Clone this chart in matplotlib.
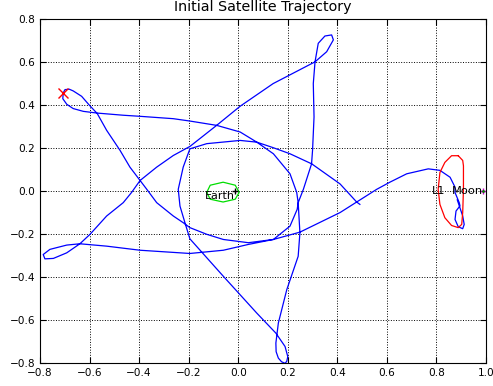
import matplotlib
matplotlib.use('Agg')
import matplotlib.pyplot as plt

# satellite path (rotating frame) in order
traj_x = [0.491, 0.478, 0.411, 0.297, 0.209, 0.142, 0.075, 0.008, -0.087, -0.195,
          -0.262, -0.396, -0.464, -0.569, -0.625, -0.666, -0.692, -0.708, -0.706,
          -0.699, -0.682, -0.666, -0.632, -0.601, -0.569, -0.531, -0.477, -0.437,
          -0.396, -0.369, -0.329, -0.262, -0.222, -0.195, -0.127, -0.060, 0.041,
          0.142, 0.209, 0.238, 0.242, 0.236, 0.209, 0.142, 0.075, 0.008, -0.127,
          -0.195, -0.222, -0.242, -0.235, -0.215, -0.195, -0.060, 0.075, 0.152,
          0.189, 0.200, 0.196, 0.189, 0.175, 0.162, 0.153, 0.152, 0.162, 0.196,
          0.242, 0.249, 0.246, 0.242, 0.263, 0.296, 0.300, 0.306, 0.303, 0.310,
          0.323, 0.350, 0.377, 0.384, 0.357, 0.310, 0.141, 0.008, -0.087, -0.195,
          -0.262, -0.329, -0.396, -0.430, -0.464, -0.531, -0.598, -0.639, -0.692,
          -0.746, -0.780, -0.787, -0.760, -0.692, -0.639, -0.531, -0.396, -0.195,
          -0.060, 0.041, 0.142, 0.249, 0.411, 0.478, 0.559, 0.612, 0.680, 0.767,
          0.814, 0.855, 0.875, 0.875, 0.892, 0.895, 0.879, 0.875, 0.888, 0.906,
          0.912, 0.906, 0.892, 0.884]
traj_y = [-0.061, -0.050, 0.034, 0.127, 0.174, 0.202, 0.228, 0.275, 0.306, 0.326,
          0.337, 0.348, 0.353, 0.363, 0.371, 0.384, 0.404, 0.430, 0.457,
          0.472, 0.474, 0.466, 0.441, 0.400, 0.361, 0.283, 0.190, 0.112,
          0.050, 0.009, -0.053, -0.115, -0.146, -0.169, -0.200, -0.224, -0.239,
          -0.224, -0.162, -0.084, -0.053, -0.005, 0.081, 0.174, 0.228, 0.236, 0.221,
          0.197, 0.112, 0.009, -0.069, -0.146, -0.221, -0.395, -0.566, -0.659,
          -0.721, -0.768, -0.790, -0.799, -0.792, -0.775, -0.745, -0.705, -0.612, -0.457,
          -0.302, -0.193, -0.131, -0.053, 0.009, 0.127, 0.190, 0.345, 0.500, 0.601,
          0.687, 0.721, 0.726, 0.703, 0.648, 0.601, 0.500, 0.395, 0.306, 0.208,
          0.166, 0.112, 0.050, -0.005, -0.053, -0.115, -0.200, -0.244, -0.286,
          -0.312, -0.314, -0.294, -0.270, -0.250, -0.244, -0.255, -0.274, -0.289,
          -0.274, -0.247, -0.224, -0.190, -0.099, -0.050, 0.009, 0.042, 0.081, 0.104,
          0.097, 0.065, 0.019, -0.006, -0.053, -0.068, -0.092, -0.131, -0.165, -0.174,
          -0.154, -0.115, -0.068, -0.040]

# L1 halo orbit (red)
halo_x = [0.888, 0.861, 0.834, 0.814, 0.807, 0.814, 0.834, 0.861, 0.888, 0.902,
          0.906, 0.909, 0.909, 0.906, 0.888]
halo_y = [0.165, 0.165, 0.134, 0.087, 0.009, -0.061, -0.123, -0.159, -0.169, -0.154,
          -0.099, 0.009, 0.118, 0.143, 0.165]

# parking orbit around Earth (green)
park_x = [-0.127, -0.113, -0.061, -0.012, 0.004, -0.012, -0.061, -0.113, -0.127]
park_y = [-0.005, 0.028, 0.042, 0.028, -0.005, -0.037, -0.050, -0.037, -0.005]

start = (-0.706, 0.457)
mu = 0.01215
earth_x = -mu
moon_x = 1 - mu
l1_x = 0.8369

fig = plt.figure(figsize=(4.93, 3.86), dpi=100)
ax = fig.add_axes([0.0811, 0.0583, 0.9047, 0.8925])

ax.plot(traj_x, traj_y, color='blue', lw=0.9)
ax.plot(halo_x, halo_y, color='red', lw=0.9)
ax.plot(park_x, park_y, color='#00dd00', lw=0.9)
ax.plot(start[0], start[1], 'rx', ms=7, mew=1.0)
ax.plot(earth_x, 0, 'k+', ms=5)
ax.plot(moon_x, 0, 'm+', ms=4)
ax.plot(moon_x, 0, 'g.', ms=2)

ax.text(earth_x, -0.02, 'Earth', ha='right', va='center', fontsize=8)
ax.text(l1_x, 0, 'L1', ha='right', va='center', fontsize=8.2)
ax.text(moon_x, 0, 'Moon', ha='right', va='center', fontsize=8.2)

ax.set_xlim(-0.8, 1.0)
ax.set_ylim(-0.8, 0.8)
ax.set_title('Initial Satellite Trajectory', fontsize=10.3)
ax.grid(True, color='k', linestyle=':', lw=0.7)
ax.tick_params(direction='in', top=True, right=True, labelsize=7.6, length=4)

fig.savefig('out.png', dpi=100)
